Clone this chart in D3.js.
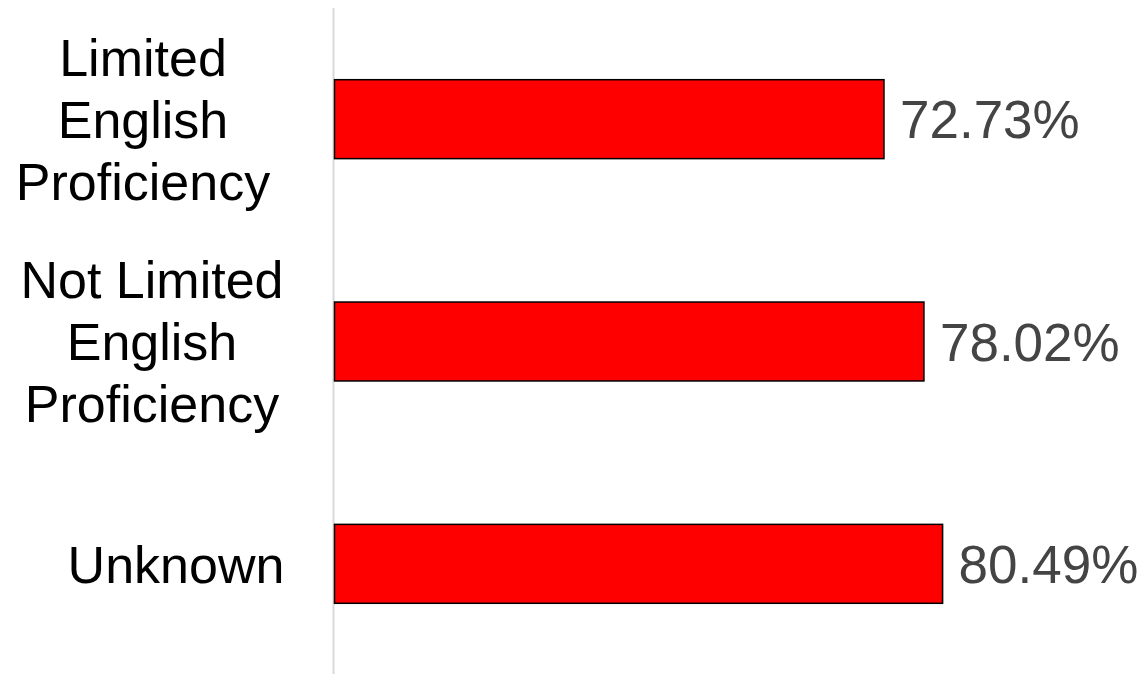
<!DOCTYPE html>
<html>
<head>
<meta charset="utf-8">
<script src="https://cdn.jsdelivr.net/npm/d3@7"></script>
<style>
  body { margin: 0; background: #fff; }
  svg { display: block; font-family: "Liberation Sans", Arial, sans-serif; }
</style>
</head>
<body>
<div id="bar_chart"></div>
<script>
// data
var categories = ["Limited English Proficiency", "Not Limited English Proficiency", "Unknown"];
var labelLines = [["Limited", "English", "Proficiency"], ["Not Limited", "English", "Proficiency"], ["Unknown"]];
var values = [72.73, 78.02, 80.49];

var w = 1142,
    h = 674;

// horizontal centre of each category label block
var labelCenters = [143, 152, 176];

var svg = d3.select("#bar_chart")
    .append("svg")
    .attr("width", w)
    .attr("height", h);

var x = d3.scaleLinear().domain([0, 100]).range([334.5, 1090]);
var y = d3.scaleBand().domain(categories).range([8, 675]).paddingInner(0.645).paddingOuter(0.3225);

// the thin grey axis line
svg.append("line")
    .attr("x1", 333.5)
    .attr("x2", 333.5)
    .attr("y1", 8)
    .attr("y2", h)
    .style("stroke", "#d9d9d9")
    .style("stroke-width", 2);

var rows = categories.map(function(c, i) {
  return { cat: c, lines: labelLines[i], value: values[i], cx: labelCenters[i] };
});

svg.selectAll(".bar")
    .data(rows)
  .enter().append("rect")
    .attr("class", "bar")
    .attr("x", x(0))
    .attr("y", function(d) { return y(d.cat); })
    .attr("width", function(d) { return x(d.value) - x(0); })
    .attr("height", y.bandwidth())
    .style("fill", "#ff0000")
    .style("stroke", "#000")
    .style("stroke-width", 1.5);

svg.selectAll(".value")
    .data(rows)
  .enter().append("text")
    .attr("class", "value")
    .attr("x", function(d) { return x(d.value) + 16; })
    .attr("y", function(d) { return y(d.cat) + y.bandwidth() / 2; })
    .attr("dy", "0.36em")
    .attr("font-size", "53px")
    .attr("fill", "#444444")
    .text(function(d) { return d.value.toFixed(2) + "%"; });

var lineH = 62;
var labels = svg.selectAll(".cat")
    .data(rows)
  .enter().append("text")
    .attr("class", "cat")
    .attr("text-anchor", "middle")
    .attr("font-size", "52px")
    .attr("fill", "#000");

labels.each(function(d) {
  var mid = y(d.cat) + y.bandwidth() / 2;
  var n = d.lines.length;
  d3.select(this).selectAll("tspan")
    .data(d.lines)
    .enter().append("tspan")
      .attr("x", d.cx)
      .attr("y", function(l, j) { return mid + (j - (n - 1) / 2) * lineH; })
      .attr("dy", "0.36em")
      .text(function(l) { return l; });
});
</script>
</body>
</html>
